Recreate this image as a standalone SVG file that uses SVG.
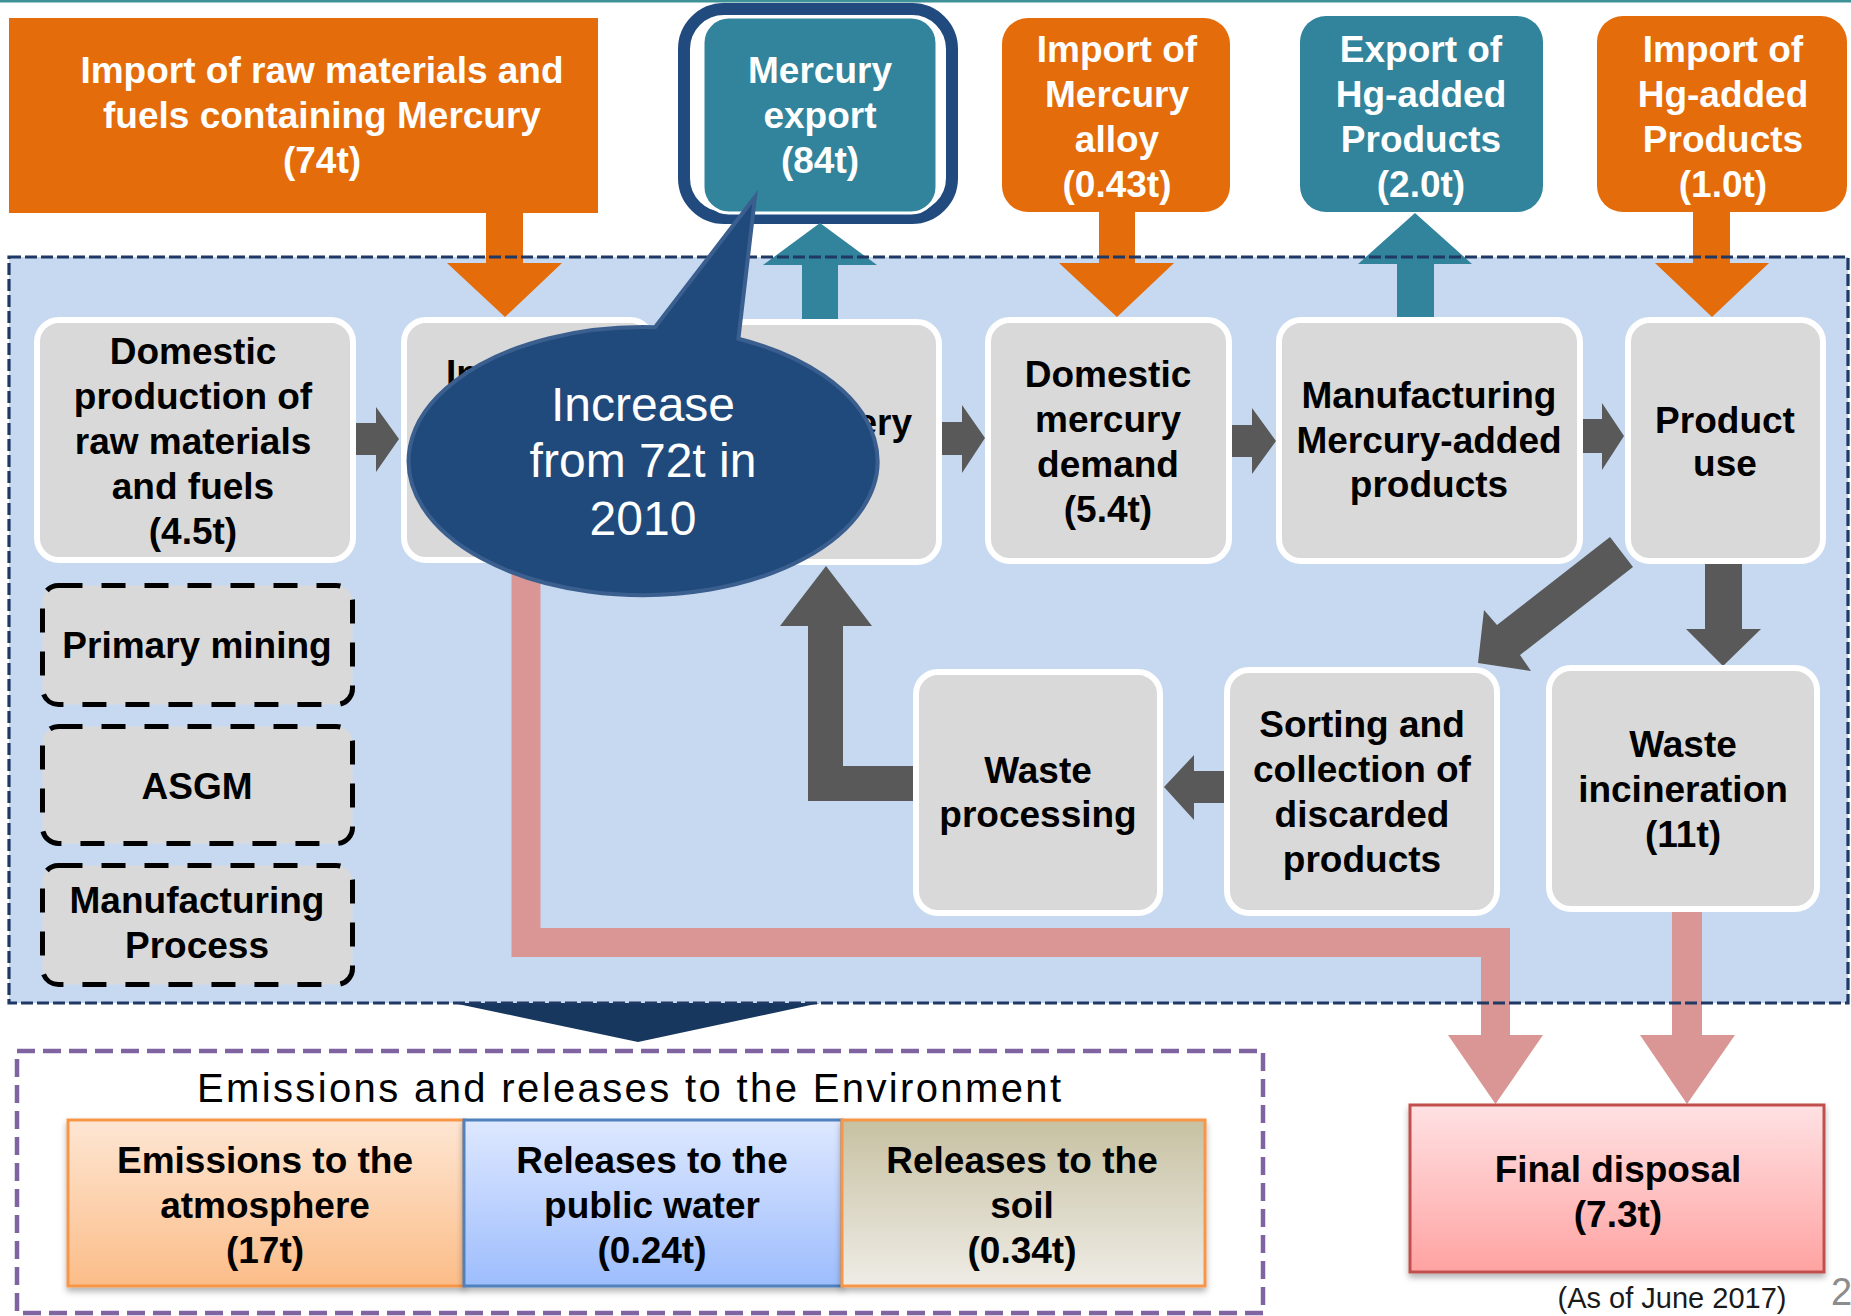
<svg xmlns="http://www.w3.org/2000/svg" width="1851" height="1316" viewBox="0 0 1851 1316">
  <defs>
    <style>
      .t { font-family: "Liberation Sans", Arial, sans-serif; font-weight: bold; font-size: 37px; text-anchor: middle; }
      .wt { fill: #ffffff; }
      .bk { fill: #000000; }
      .proc { fill: #D9D9D9; stroke: #ffffff; stroke-width: 6; }
      .dbox { fill: #D9D9D9; stroke: #000000; stroke-width: 5; stroke-dasharray: 24 19; }
      .orange { fill: #E46C0A; }
      .teal { fill: #31849B; }
      .gray { fill: #595959; }
      .pink { fill: #D99694; }
    </style>
    <linearGradient id="gAir" x1="0" y1="0" x2="0" y2="1">
      <stop offset="0" stop-color="#FEE6D3"/>
      <stop offset="1" stop-color="#FBBD88"/>
    </linearGradient>
    <linearGradient id="gWater" x1="0" y1="0" x2="0" y2="1">
      <stop offset="0" stop-color="#DEE8FF"/>
      <stop offset="1" stop-color="#9DBDFD"/>
    </linearGradient>
    <linearGradient id="gSoil" x1="0" y1="0" x2="0" y2="1">
      <stop offset="0" stop-color="#C7C1A2"/>
      <stop offset="1" stop-color="#EFECE6"/>
    </linearGradient>
    <linearGradient id="gFinal" x1="0" y1="0" x2="0" y2="1">
      <stop offset="0" stop-color="#FFE1E3"/>
      <stop offset="1" stop-color="#FFA3A2"/>
    </linearGradient>
    <filter id="shadow" x="-5%" y="-10%" width="110%" height="125%">
      <feDropShadow dx="0" dy="4" stdDeviation="3" flood-color="#000000" flood-opacity="0.3"/>
    </filter>
  </defs>

  <!-- top rule -->
  <rect x="0" y="0" width="1851" height="2.5" fill="#3E9297"/>

  <!-- domestic flow area background -->
  <rect id="domestic-area" x="9" y="257" width="1839" height="746" fill="#C6D9F1"/>

  <!-- supply / export boxes above the domestic area -->
  <g id="import-raw">
    <rect x="9" y="18" width="589" height="195" class="orange"/>
    <text class="t wt" x="322" y="83">Import of raw materials and</text>
    <text class="t wt" x="322" y="128">fuels containing Mercury</text>
    <text class="t wt" x="322" y="173">(74t)</text>
  </g>
  <g id="mercury-export">
    <rect x="684" y="9" width="268" height="209" rx="40" fill="#ffffff" stroke="#214B7E" stroke-width="12"/>
    <rect x="703" y="17" width="234" height="196" rx="26" class="teal" stroke="#ffffff" stroke-width="3"/>
    <text class="t wt" x="820" y="83">Mercury</text>
    <text class="t wt" x="820" y="128">export</text>
    <text class="t wt" x="820" y="173">(84t)</text>
  </g>
  <g id="import-alloy">
    <rect x="1002" y="18" width="228" height="194" rx="26" class="orange"/>
    <text class="t wt" x="1117" y="62">Import of</text>
    <text class="t wt" x="1117" y="107">Mercury</text>
    <text class="t wt" x="1117" y="152">alloy</text>
    <text class="t wt" x="1117" y="197">(0.43t)</text>
  </g>
  <g id="export-products">
    <rect x="1300" y="16" width="243" height="196" rx="26" class="teal"/>
    <text class="t wt" x="1421" y="62">Export of</text>
    <text class="t wt" x="1421" y="107">Hg-added</text>
    <text class="t wt" x="1421" y="152">Products</text>
    <text class="t wt" x="1421" y="197">(2.0t)</text>
  </g>
  <g id="import-products">
    <rect x="1597" y="16" width="250" height="196" rx="26" class="orange"/>
    <text class="t wt" x="1723" y="62">Import of</text>
    <text class="t wt" x="1723" y="107">Hg-added</text>
    <text class="t wt" x="1723" y="152">Products</text>
    <text class="t wt" x="1723" y="197">(1.0t)</text>
  </g>

  <!-- flow arrows -->
  <g id="connectors">
    <!-- imports and exports across the area boundary -->
    <polygon class="orange" points="486,212 523,212 523,263 562,263 505,317 447,263 486,263"/>
    <polygon class="teal" points="802,322 838,322 838,265 877,265 820,223 763,265 802,265"/>
    <polygon class="orange" points="1099,211 1135,211 1135,263 1174,263 1117,317 1059,263 1099,263"/>
    <polygon class="teal" points="1397,322 1434,322 1434,264 1472,264 1415,213 1358,264 1397,264"/>
    <polygon class="orange" points="1693,211 1730,211 1730,263 1769,263 1712,317 1655,263 1693,263"/>
    <!-- main chain -->
    <polygon class="gray" points="354,423 376,423 376,407 399,439 376,472 376,455 354,455"/>
    <polygon class="gray" points="939,422 962,422 962,405 985,438 962,473 962,455 939,455"/>
    <polygon class="gray" points="1230,425 1252,425 1252,408 1276,441 1252,474 1252,457 1230,457"/>
    <polygon class="gray" points="1581,419 1602,419 1602,403 1624,436 1602,470 1602,453 1581,453"/>
    <!-- after use -->
    <polygon class="gray" points="1610,537 1633,567 1520,655 1531,671 1478,663 1484,610 1497,625"/>
    <polygon class="gray" points="1705,562 1742,562 1742,629 1761,629 1723,666 1686,629 1705,629"/>
    <polygon class="gray" points="1226,771 1194,771 1194,755 1164,787 1194,820 1194,803 1226,803"/>
    <polygon class="gray" points="916,766 843,766 843,626 872,626 826,566 780,626 808,626 808,801 916,801"/>
    <!-- to final disposal -->
    <path d="M526 556 V942.5 H1495.5 V1036" fill="none" stroke="#D99694" stroke-width="29" stroke-linejoin="miter"/>
    <polygon class="pink" points="1448,1035 1543,1035 1495.5,1104"/>
    <rect class="pink" x="1672" y="908" width="30" height="128"/>
    <polygon class="pink" points="1640,1035 1735,1035 1687,1104"/>
    <!-- to the environment -->
    <polygon fill="#17375E" points="453,1003 820,1003 638,1042"/>
  </g>

  <!-- process nodes -->
  <g id="domestic-production">
    <rect class="proc" x="37" y="320" width="316" height="240" rx="22"/>
    <text class="t bk" x="193" y="364">Domestic</text>
    <text class="t bk" x="193" y="409">production of</text>
    <text class="t bk" x="193" y="454">raw materials</text>
    <text class="t bk" x="193" y="499">and fuels</text>
    <text class="t bk" x="193" y="544">(4.5t)</text>
  </g>
  <g id="industry">
    <rect class="proc" x="404" y="320" width="248" height="240" rx="22"/>
    <text class="t bk" x="446" y="386" style="text-anchor:start">In</text>
  </g>
  <g id="recovery">
    <rect class="proc" x="695" y="322" width="244" height="240" rx="22"/>
    <text class="t bk" x="912" y="435" style="text-anchor:end">ery</text>
  </g>
  <g id="domestic-demand">
    <rect class="proc" x="988" y="320" width="241" height="241" rx="22"/>
    <text class="t bk" x="1108" y="387">Domestic</text>
    <text class="t bk" x="1108" y="432">mercury</text>
    <text class="t bk" x="1108" y="477">demand</text>
    <text class="t bk" x="1108" y="522">(5.4t)</text>
  </g>
  <g id="manufacturing">
    <rect class="proc" x="1279" y="320" width="301" height="241" rx="22"/>
    <text class="t bk" x="1429" y="408">Manufacturing</text>
    <text class="t bk" x="1429" y="453">Mercury-added</text>
    <text class="t bk" x="1429" y="497">products</text>
  </g>
  <g id="product-use">
    <rect class="proc" x="1628" y="320" width="195" height="241" rx="22"/>
    <text class="t bk" x="1725" y="433">Product</text>
    <text class="t bk" x="1725" y="476">use</text>
  </g>
  <g id="waste-processing">
    <rect class="proc" x="916" y="672" width="244" height="241" rx="22"/>
    <text class="t bk" x="1038" y="783">Waste</text>
    <text class="t bk" x="1038" y="827">processing</text>
  </g>
  <g id="sorting">
    <rect class="proc" x="1227" y="670" width="270" height="243" rx="22"/>
    <text class="t bk" x="1362" y="737">Sorting and</text>
    <text class="t bk" x="1362" y="782">collection of</text>
    <text class="t bk" x="1362" y="827">discarded</text>
    <text class="t bk" x="1362" y="872">products</text>
  </g>
  <g id="incineration">
    <rect class="proc" x="1549" y="668" width="268" height="241" rx="22"/>
    <text class="t bk" x="1683" y="757">Waste</text>
    <text class="t bk" x="1683" y="802">incineration</text>
    <text class="t bk" x="1683" y="847">(11t)</text>
  </g>

  <!-- sources outside the counted flow -->
  <g id="primary-mining">
    <rect class="dbox" x="42.5" y="585.5" width="310" height="119" rx="16"/>
    <text class="t bk" x="197" y="658">Primary mining</text>
  </g>
  <g id="asgm">
    <rect class="dbox" x="42.5" y="726.5" width="310" height="117" rx="16"/>
    <text class="t bk" x="197" y="799">ASGM</text>
  </g>
  <g id="manufacturing-process">
    <rect class="dbox" x="42.5" y="865.5" width="310" height="119" rx="16"/>
    <text class="t bk" x="197" y="913">Manufacturing</text>
    <text class="t bk" x="197" y="958">Process</text>
  </g>

  <!-- boundary of the domestic area -->
  <rect x="9" y="257" width="1839" height="746" fill="none" stroke="#1F3864" stroke-width="3.2" stroke-dasharray="12 4"/>

  <!-- callout -->
  <g id="callout">
    <path d="M655 327.3 A234.5 134 0 1 0 738.4 338.7 L755 197 Z" fill="#214A7C" stroke="#3A5F8F" stroke-width="4" stroke-linejoin="miter"/>
    <text x="643" y="421" fill="#ffffff" font-family="Liberation Sans, Arial, sans-serif" font-size="48" text-anchor="middle">Increase</text>
    <text x="643" y="477" fill="#ffffff" font-family="Liberation Sans, Arial, sans-serif" font-size="48" text-anchor="middle">from 72t in</text>
    <text x="643" y="535" fill="#ffffff" font-family="Liberation Sans, Arial, sans-serif" font-size="48" text-anchor="middle">2010</text>
  </g>

  <!-- releases to the environment -->
  <g id="environment">
    <rect x="17" y="1051" width="1246" height="262" fill="none" stroke="#8064A2" stroke-width="4.5" stroke-dasharray="18 8"/>
    <text x="629" y="1102" font-family="Liberation Sans, Arial, sans-serif" font-size="40" text-anchor="middle" textLength="864" lengthAdjust="spacing" fill="#000000">Emissions and releases to the Environment</text>
  </g>
  <g id="atmosphere">
    <rect x="68" y="1120" width="396" height="166" fill="url(#gAir)" stroke="#F79646" stroke-width="3" filter="url(#shadow)"/>
    <text class="t bk" x="265" y="1173">Emissions to the</text>
    <text class="t bk" x="265" y="1218">atmosphere</text>
    <text class="t bk" x="265" y="1263">(17t)</text>
  </g>
  <g id="public-water">
    <rect x="464" y="1120" width="378" height="166" fill="url(#gWater)" stroke="#4F81BD" stroke-width="3" filter="url(#shadow)"/>
    <text class="t bk" x="652" y="1173">Releases to the</text>
    <text class="t bk" x="652" y="1218">public water</text>
    <text class="t bk" x="652" y="1263">(0.24t)</text>
  </g>
  <g id="soil">
    <rect x="842" y="1120" width="363" height="166" fill="url(#gSoil)" stroke="#F79646" stroke-width="3" filter="url(#shadow)"/>
    <text class="t bk" x="1022" y="1173">Releases to the</text>
    <text class="t bk" x="1022" y="1218">soil</text>
    <text class="t bk" x="1022" y="1263">(0.34t)</text>
  </g>
  <g id="final-disposal">
    <rect x="1410" y="1105" width="414" height="167" fill="url(#gFinal)" stroke="#C0504D" stroke-width="3" filter="url(#shadow)"/>
    <text class="t bk" x="1618" y="1182">Final disposal</text>
    <text class="t bk" x="1618" y="1227">(7.3t)</text>
  </g>

  <!-- footnote and page number -->
  <text x="1672" y="1308" font-family="Liberation Sans, Arial, sans-serif" font-size="29" text-anchor="middle" fill="#1A1A1A">(As of June 2017)</text>
  <text x="1831" y="1305" font-family="Liberation Sans, Arial, sans-serif" font-size="38" fill="#8C8C8C">2</text>
</svg>
